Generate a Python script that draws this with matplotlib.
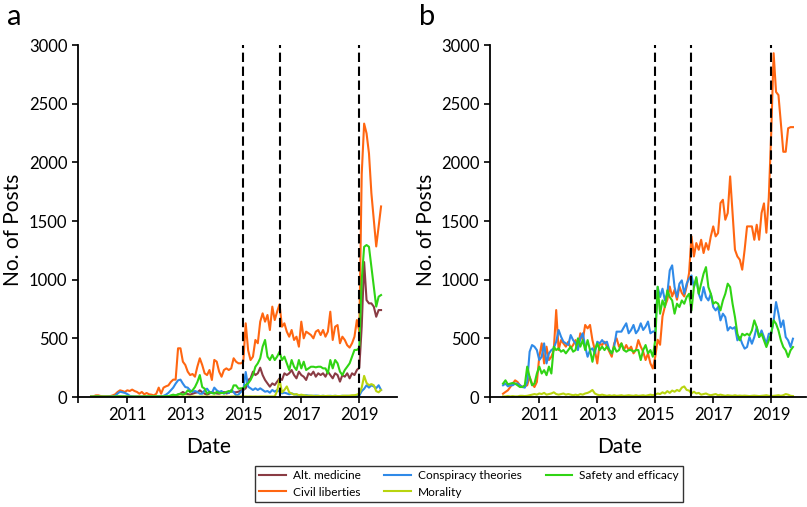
import numpy as np
import matplotlib
matplotlib.use("Agg")
import matplotlib.pyplot as plt

plt.rcParams['font.family'] = ['Lato', 'DejaVu Sans']

# monthly points, Oct 2009 .. Oct 2019
dates = 2009.75 + np.arange(121) / 12.0

# ---- panel a ----
a_alt = [0, 0, 0, 0, 0, 0, 0, 0, 0, 0,
         3, 5, 5, 3, 3, 3, 3, 3, 3, 3,
         3, 3, 3, 3, 3, 3, 3, 3, 3, 3,
         3, 5, 5, 8, 10, 14, 20, 28, 43, 30,
         25, 20, 28, 35, 40, 57, 40, 28, 20, 30,
         43, 35, 30, 28, 35, 43, 30, 35, 57, 40,
         40, 45, 57, 60, 74, 145, 159, 216, 187, 202,
         250, 187, 145, 116, 88, 116, 102, 131, 159, 145,
         202, 187, 202, 230, 187, 159, 216, 187, 173, 145,
         202, 187, 216, 173, 202, 187, 202, 173, 216, 187,
         159, 202, 187, 131, 187, 173, 202, 159, 202, 187,
         230, 250, 600, 1150, 826, 798, 798, 770, 684, 741, 741]
a_civil = [5, 6, 14, 14, 8, 6, 6, 6, 8, 14,
           23, 43, 57, 51, 43, 57, 51, 63, 51, 43,
           28, 43, 23, 34, 23, 20, 14, 28, 80, 28,
           80, 91, 99, 128, 148, 148, 415, 415, 301, 273,
           216, 187, 196, 173, 259, 330, 273, 202, 187, 230,
           145, 316, 301, 216, 173, 230, 244, 230, 244, 330,
           301, 287, 287, 301, 628, 398, 315, 344, 486, 458,
           642, 713, 642, 699, 571, 770, 656, 727, 790, 599,
           628, 557, 514, 571, 486, 514, 429, 642, 500, 557,
           543, 528, 500, 557, 571, 528, 571, 514, 557, 727,
           486, 599, 613, 458, 514, 486, 441, 421, 458, 514,
           656, 560, 1900, 2330, 2247, 2077, 1737, 1510, 1283, 1453, 1624]
a_consp = [2, 2, 3, 3, 2, 2, 2, 3, 3, 5,
           10, 30, 45, 40, 35, 25, 10, 5, 3, 3,
           3, 3, 3, 3, 3, 3, 3, 3, 5, 5,
           10, 20, 35, 57, 80, 114, 142, 148, 114, 85,
           80, 57, 43, 51, 43, 28, 28, 57, 71, 43,
           34, 80, 57, 43, 51, 28, 43, 34, 57, 43,
           14, 20, 43, 57, 213, 88, 74, 60, 74, 60,
           74, 60, 45, 51, 37, 60, 45, 60, 45, 31,
           37, 31, 23, 31, 23, 20, 15, 15, 12, 15,
           12, 10, 10, 12, 10, 8, 10, 8, 8, 10,
           8, 10, 8, 8, 10, 8, 10, 8, 8, 10,
           10, 12, 50, 70, 100, 80, 100, 90, 75, 100, 60]
a_moral = [2, 2, 2, 2, 2, 2, 2, 2, 2, 2,
           2, 3, 3, 2, 2, 3, 2, 2, 2, 2,
           2, 2, 3, 2, 2, 2, 2, 3, 2, 2,
           3, 3, 4, 3, 5, 4, 3, 4, 5, 3,
           4, 3, 5, 4, 3, 4, 5, 3, 4, 3,
           4, 5, 3, 4, 3, 5, 4, 3, 4, 5,
           4, 3, 5, 4, 5, 4, 5, 4, 5, 4,
           5, 5, 5, 5, 5, 5, 5, 50, 150, 40,
           60, 90, 40, 30, 20, 25, 15, 20, 15, 12,
           10, 12, 10, 8, 10, 8, 10, 8, 10, 8,
           8, 10, 8, 8, 10, 12, 10, 12, 15, 15,
           20, 30, 80, 180, 120, 100, 110, 100, 50, 40, 60]
a_safety = [3, 3, 5, 5, 3, 3, 3, 3, 3, 3,
            5, 5, 5, 5, 5, 5, 3, 3, 3, 3,
            3, 3, 5, 5, 5, 5, 5, 5, 5, 5,
            5, 6, 6, 14, 20, 14, 23, 28, 20, 28,
            57, 43, 57, 85, 128, 187, 85, 71, 28, 43,
            34, 28, 43, 34, 34, 34, 43, 51, 43, 99,
            99, 71, 74, 74, 102, 116, 145, 187, 258, 287,
            330, 429, 486, 344, 315, 358, 315, 344, 386, 315,
            344, 287, 230, 315, 258, 230, 315, 244, 301, 230,
            244, 258, 258, 253, 258, 258, 244, 244, 202, 315,
            244, 315, 287, 216, 187, 230, 258, 287, 344, 401,
            401, 420, 997, 1280, 1295, 1280, 1110, 940, 770, 855, 869]

# ---- panel b ----
b_civil = [28, 43, 57, 85, 114, 142, 128, 100, 85, 91,
           100, 171, 114, 85, 128, 343, 457, 286, 429, 315,
           343, 400, 741, 400, 485, 457, 429, 471, 415, 443,
           485, 429, 543, 485, 614, 585, 614, 485, 400, 286,
           457, 443, 471, 429, 386, 343, 457, 500, 429, 457,
           400, 443, 400, 429, 372, 400, 485, 429, 386, 315,
           372, 286, 243, 343, 488, 445, 687, 772, 829, 942,
           857, 914, 829, 942, 886, 857, 942, 1056, 1369, 1198,
           1312, 1255, 1340, 1227, 1312, 1255, 1369, 1454, 1369, 1397,
           1653, 1681, 1511, 1568, 1880, 1568, 1255, 1198, 1170, 1085,
           1255, 1454, 1454, 1454, 1340, 1468, 1340, 1568, 1650, 1400,
           1700, 2250, 2930, 2600, 2573, 2333, 2090, 2090, 2290, 2300, 2300]
b_consp = [100, 114, 91, 100, 100, 114, 114, 100, 85, 80,
           128, 386, 443, 429, 400, 315, 343, 457, 286, 372,
           400, 415, 471, 571, 514, 471, 457, 443, 528, 485,
           457, 400, 500, 543, 429, 343, 400, 415, 372, 471,
           457, 485, 457, 471, 400, 372, 429, 557, 557, 557,
           594, 628, 543, 571, 614, 543, 571, 628, 571, 600,
           643, 543, 557, 560, 937, 852, 923, 823, 880, 1079,
           1122, 937, 852, 966, 994, 880, 966, 1008, 1036, 937,
           1008, 880, 823, 937, 852, 823, 880, 767, 738, 767,
           653, 710, 681, 567, 596, 582, 596, 483, 511, 454,
           412, 426, 511, 454, 511, 596, 511, 567, 511, 454,
           539, 539, 653, 809, 710, 596, 653, 511, 483, 426, 497]
b_moral = [5, 5, 8, 5, 8, 5, 5, 10, 10, 8,
           10, 15, 20, 25, 20, 30, 25, 35, 20, 25,
           30, 40, 25, 20, 25, 30, 20, 25, 20, 15,
           20, 15, 25, 20, 30, 35, 45, 60, 30, 20,
           15, 20, 15, 10, 15, 10, 15, 10, 12, 15,
           10, 12, 15, 12, 10, 15, 10, 12, 15, 10,
           15, 20, 15, 20, 30, 25, 40, 30, 50, 35,
           55, 45, 60, 50, 80, 90, 60, 55, 30, 45,
           30, 35, 20, 25, 30, 20, 15, 20, 25, 15,
           20, 15, 10, 15, 12, 10, 15, 10, 12, 10,
           12, 10, 8, 10, 12, 10, 8, 10, 12, 15,
           10, 8, 10, 12, 15, 10, 15, 25, 20, 10, 8]
b_safety = [114, 142, 108, 114, 120, 114, 100, 85, 85, 100,
            259, 171, 100, 114, 200, 259, 200, 229, 186, 259,
            200, 429, 400, 415, 386, 400, 372, 400, 429, 386,
            400, 500, 429, 485, 400, 485, 400, 300, 400, 457,
            400, 429, 400, 429, 400, 372, 429, 386, 400, 457,
            400, 386, 400, 400, 386, 400, 400, 315, 400, 443,
            372, 400, 343, 485, 940, 710, 823, 767, 909, 852,
            823, 710, 795, 767, 823, 795, 852, 880, 738, 937,
            1022, 880, 966, 1051, 1107, 937, 880, 795, 809, 795,
            738, 823, 880, 966, 937, 795, 681, 539, 483, 539,
            525, 539, 525, 567, 653, 596, 511, 539, 483, 426,
            483, 539, 653, 624, 567, 483, 426, 398, 341, 398, 426]

labels = ['Alt. medicine', 'Civil liberties', 'Conspiracy theories',
          'Morality', 'Safety and efficacy']
colors = ['#8a3c44', '#ff6611', '#2f8ae8', '#b8d40f', '#30d414']
events = [2015.0, 2016.25, 2019.0]
year_ticks = [2011, 2013, 2015, 2017, 2019]

fig = plt.figure(figsize=(8.07, 5.07), dpi=100)
ax_a = fig.add_axes([78 / 807, 110 / 507, 319 / 807, 352 / 507])
ax_b = fig.add_axes([490 / 807, 110 / 507, 316 / 807, 352 / 507])

series_a = [a_alt, a_civil, a_consp, a_moral, a_safety]
series_b = [None, b_civil, b_consp, b_moral, b_safety]

for ax, series, xmax, letter in [(ax_a, series_a, 2020.3, 'a'),
                                 (ax_b, series_b, 2020.2, 'b')]:
    for vals, lab, col in zip(series, labels, colors):
        if vals is None:
            ax.plot([], [], color=col, lw=1.5, label=lab)
            continue
        ax.plot(dates, vals, color=col, lw=1.5, label=lab)
    for ev in events:
        ax.axvline(ev, color='black', lw=1.5, ls=(0, (4.5, 2.2)), zorder=5)
    ax.set_xlim(2009.3, xmax)
    ax.set_ylim(0, 3000)
    ax.set_yticks(range(0, 3001, 500))
    ax.set_xticks([2009.3] + year_ticks)
    ax.set_xticklabels([''] + [str(y) for y in year_ticks])
    ax.spines['top'].set_visible(False)
    ax.spines['right'].set_visible(False)
    for s in ['left', 'bottom']:
        ax.spines[s].set_linewidth(1.3)
    ax.tick_params(labelsize=12, length=4, width=1.2, direction='out')
    ax.set_xlabel('Date', fontsize=15)
    ax.set_ylabel('No. of Posts', fontsize=15)
    ax.xaxis.set_label_coords(0.41, -0.115)
    ax.yaxis.set_label_coords(-0.172, 0.475)
    ax.text(-0.2, 1.08, letter, transform=ax.transAxes, fontsize=21,
            va='center', ha='center')

handles, labs = ax_a.get_legend_handles_labels()
leg = fig.legend(handles, labs, ncol=3, loc='upper center',
                 bbox_to_anchor=(469 / 807, 1 - 460 / 507), fontsize=8.6,
                 frameon=True, fancybox=False, edgecolor='black',
                 handlelength=2.2, handletextpad=0.6, columnspacing=2.0,
                 borderpad=0.35, labelspacing=0.45)
leg.get_frame().set_linewidth(1.0)

fig.savefig('out.png', dpi=100)
